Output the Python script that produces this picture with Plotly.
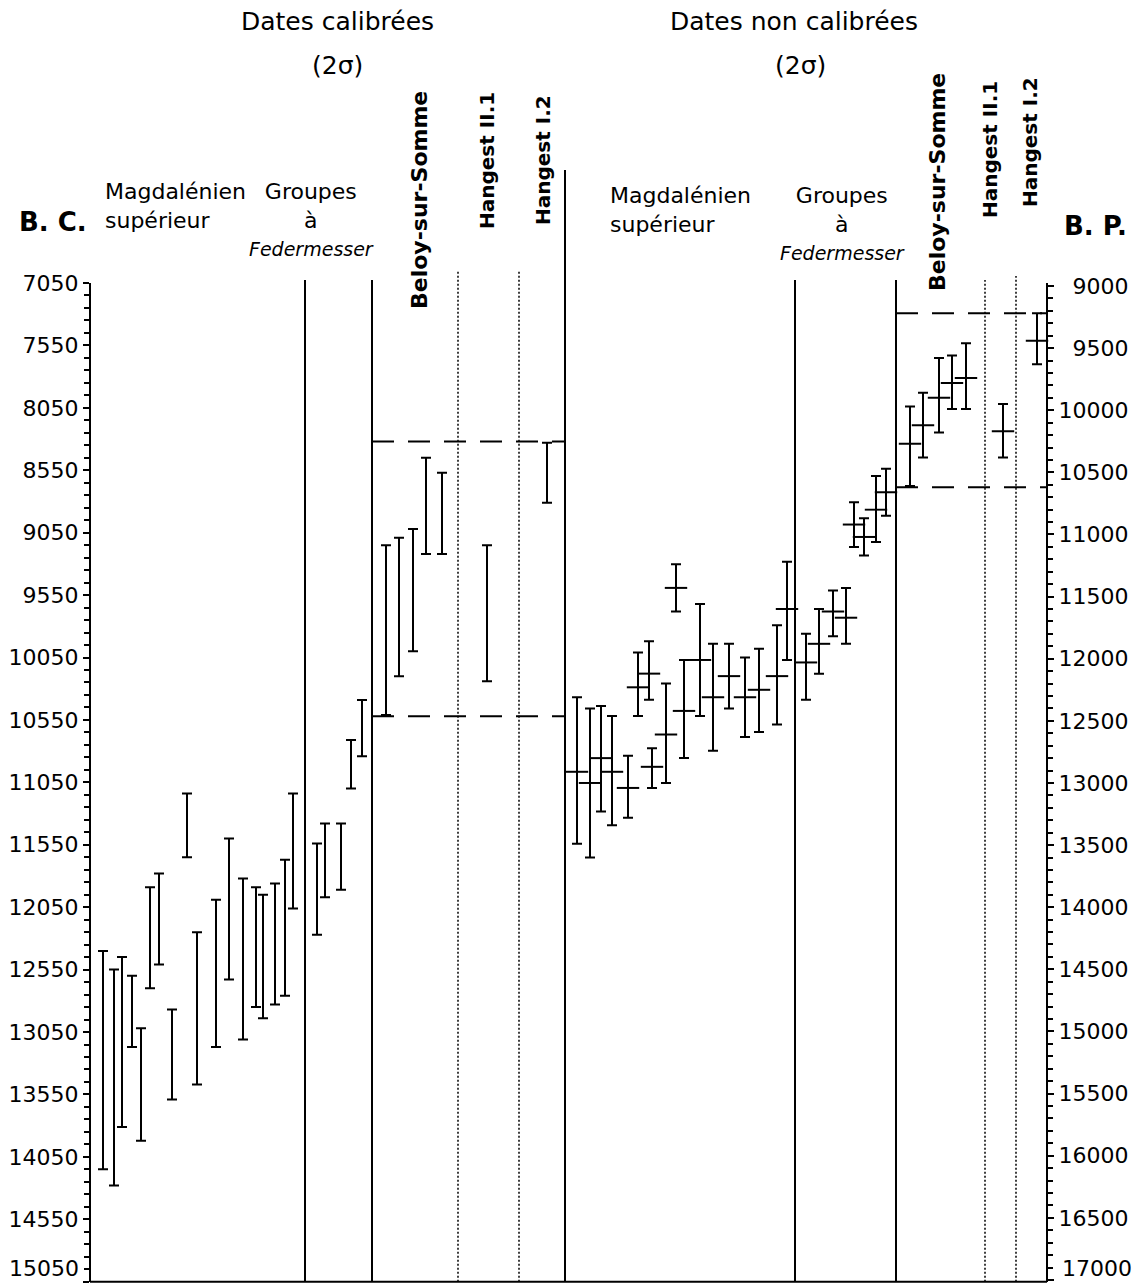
import plotly.graph_objects as go

# --- calibrated dates (B.C., 2 sigma) ---
cal_x = [103, 114, 122, 132, 141, 150, 159, 172, 187, 197, 216, 229, 243, 256, 263, 275, 285, 293,
         317, 325, 341, 351, 362,
         386, 399, 413, 426, 442,
         487,
         547]
cal_young = [12400, 12550, 12450, 12600, 13020, 11890, 11780, 12870, 11140, 12250, 11990, 11500,
             11820, 11890, 11950, 11860, 11670, 11140,
             11540, 11380, 11380, 10710, 10390,
             9150, 9090, 9020, 8450, 8570,
             9150,
             8330]
cal_old = [14150, 14280, 13810, 13170, 13920, 12700, 12510, 13590, 11650, 13470, 13170, 12630,
           13110, 12850, 12940, 12830, 12760, 12060,
           12270, 11970, 11910, 11100, 10840,
           10510, 10200, 10000, 9220, 9220,
           10240,
           8810]
cal_bounds = [8320, 10520]

# --- uncalibrated dates (B.P., 2 sigma) ---
unc_x = [577, 590, 601, 612, 628, 638, 649, 652, 666, 676, 684, 700, 713, 729, 745, 759, 777, 787,
         806, 819, 833, 846, 854, 864, 876, 886,
         910, 923, 939, 952, 966,
         1003,
         1037]
unc_young = [12310, 12400, 12380, 12460, 12780, 11950, 11860, 12720, 12200, 11240, 12010, 11560,
             11880, 11880, 11990, 11920, 11730, 11220,
             11800, 11600, 11450, 11430, 10740, 10870, 10530, 10470,
             9970, 9860, 9580, 9560, 9460,
             9950,
             9220]
unc_mid = [12910, 13000, 12800, 12910, 13040, 12230, 12120, 12870, 12610, 11430, 12420, 12010,
           12310, 12140, 12310, 12250, 12140, 11600,
           12030, 11880, 11620, 11670, 10920, 11020, 10800, 10660,
           10270, 10120, 9900, 9780, 9740,
           10170,
           9440]
unc_old = [13490, 13600, 13230, 13340, 13280, 12460, 12330, 13040, 13000, 11620, 12800, 12460,
           12740, 12400, 12630, 12590, 12530, 12010,
           12330, 12120, 11820, 11880, 11100, 11170, 11060, 10850,
           10610, 10380, 10180, 9990, 9990,
           10380,
           9630]
unc_bounds = [9220, 10620]

bc_ticks = list(range(7050, 15051, 500))
bp_ticks = list(range(9000, 17001, 500))

# page body has an 8px margin, so the figure is shifted by OFF
OFF = 8
W = 1142 - OFF
H = 1285 - OFF


def py(p):
    return 1 - (p - OFF) / H


FONT = "DejaVu Sans"

fig = go.Figure()

cal_mid = [(a + b) / 2 for a, b in zip(cal_young, cal_old)]
cal_half = [(b - a) / 2 for a, b in zip(cal_young, cal_old)]
fig.add_trace(go.Scatter(
    x=cal_x, y=cal_mid, mode='markers', yaxis='y',
    marker=dict(size=1, color='rgba(0,0,0,0)'),
    error_y=dict(type='data', symmetric=True, array=cal_half, color='black', thickness=2, width=5),
    hoverinfo='skip'))

fig.add_trace(go.Scatter(
    x=unc_x, y=unc_mid, mode='markers', yaxis='y2',
    marker=dict(symbol='line-ew', size=16, color='black', line=dict(width=2, color='black')),
    error_y=dict(type='data', symmetric=False,
                 array=[o - m for o, m in zip(unc_old, unc_mid)],
                 arrayminus=[m - y for m, y in zip(unc_mid, unc_young)],
                 color='black', thickness=2, width=5),
    hoverinfo='skip'))

shapes = []
bottom = py(1281.7)
# solid dividers
for x, top in [(305, 280), (372, 280), (565, 170), (795, 280), (896, 280)]:
    shapes.append(dict(type='line', xref='x', yref='paper', x0=x, x1=x, y0=bottom, y1=py(top),
                       line=dict(color='black', width=2)))
# dotted dividers
for x, top in [(458, 270), (519, 270), (985, 280), (1016, 276)]:
    shapes.append(dict(type='line', xref='x', yref='paper', x0=x, x1=x, y0=bottom, y1=py(top),
                       line=dict(color='black', width=1.5, dash='2px,2px')))
# bottom line
shapes.append(dict(type='line', xref='x', yref='paper', x0=90, x1=1047, y0=bottom, y1=bottom,
                   line=dict(color='black', width=2)))
# dashed range limits
for v in cal_bounds:
    shapes.append(dict(type='line', xref='x', yref='y', x0=372, x1=565, y0=v, y1=v,
                       line=dict(color='black', width=2, dash='22px,14px')))
for v in unc_bounds:
    shapes.append(dict(type='line', xref='x', yref='y2', x0=896, x1=1047, y0=v, y1=v,
                       line=dict(color='black', width=2, dash='22px,14px')))

ann = []


def label(text, x, p, size=22, xanchor='center', align='center', angle=0):
    ann.append(dict(text=text, x=x, y=py(p), xref='x', yref='paper', showarrow=False,
                    xanchor=xanchor, yanchor='middle', align=align, textangle=angle,
                    font=dict(family=FONT, size=size, color='black')))


fed = "<i><span style='font-size:19px'>Federmesser</span></i>"
label("Dates calibrées", 337, 22, 25)
label("(2σ)", 337, 66, 25)
label("Dates non calibrées", 794, 22, 25)
label("(2σ)", 800, 66, 25)
label("<b>B. C.</b>", 53, 222, 26)
label("<b>B. P.</b>", 1062, 226, 26, xanchor='left')
label("Magdalénien<br>supérieur", 103, 206, 22, xanchor='left', align='left')
label("Groupes<br>à<br>" + fed, 311, 219, 22)
label("Magdalénien<br>supérieur", 608, 210, 22, xanchor='left', align='left')
label("Groupes<br>à<br>" + fed, 842, 223, 22)
label("<b>Beloy-sur-Somme</b>", 420, 200, 22, angle=-90)
label("<b>Hangest II.1</b>", 487, 161, 20, angle=-90)
label("<b>Hangest I.2</b>", 543, 160, 20, angle=-90)
label("<b>Beloy-sur-Somme</b>", 937, 182, 22, angle=-90)
label("<b>Hangest II.1</b>", 990, 150, 20, angle=-90)
label("<b>Hangest I.2</b>", 1030, 142, 20, angle=-90)
# bottom-most tick labels sit slightly above their ticks so they stay on the page
label(str(bc_ticks[-1]), 81, 1268, 22, xanchor='right')
label(str(bp_ticks[-1]), 1060, 1268, 22, xanchor='left')

axis_common = dict(showline=True, linecolor='black', linewidth=2, ticks='outside', ticklen=6,
                   tickwidth=2, tickcolor='black', showgrid=False, zeroline=False,
                   tickfont=dict(family=FONT, size=22, color='black'), anchor='free',
                   tickmode='array', automargin=False, ticklabeloverflow='allow')

fig.update_layout(
    width=W, height=H, margin=dict(l=0, r=0, t=0, b=0, autoexpand=False),
    paper_bgcolor='white', plot_bgcolor='white', showlegend=False,
    xaxis=dict(range=[OFF, OFF + W], visible=False, automargin=False),
    yaxis=dict(domain=[bottom, py(283)], range=[15050, 7050], position=(90 - OFF) / W,
               side='left', tickvals=bc_ticks,
               ticktext=[str(v) for v in bc_ticks[:-1]] + [''],
               minor=dict(tick0=7050, dtick=100, ticks='outside', ticklen=5, tickwidth=1.5,
                          tickcolor='black'),
               **axis_common),
    yaxis2=dict(overlaying='y', range=[17014, 8976], position=(1047 - OFF) / W, side='right',
                tickvals=bp_ticks,
                ticktext=[('\u2007' if v < 10000 else '') + str(v) for v in bp_ticks[:-1]] + [''],
                minor=dict(tick0=9000, dtick=100, ticks='outside', ticklen=5, tickwidth=1.5,
                           tickcolor='black'),
                **axis_common),
    shapes=shapes, annotations=ann,
)

fig.write_html("out.html")
